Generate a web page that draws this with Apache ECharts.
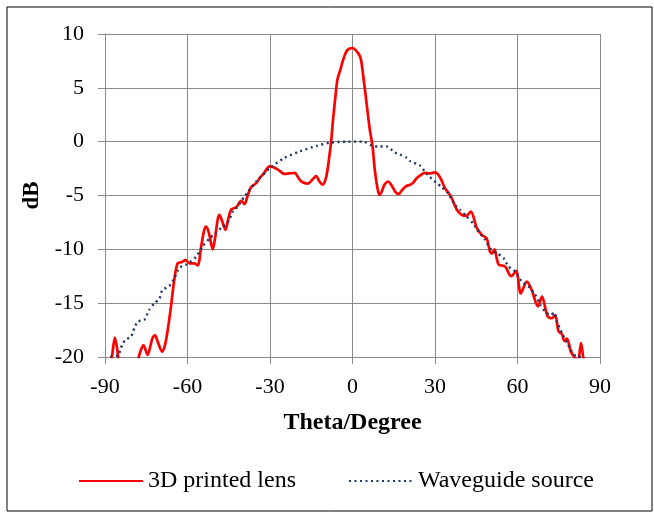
<!DOCTYPE html>
<html>
<head>
<meta charset="utf-8">
<script src="https://cdn.jsdelivr.net/npm/echarts@6/dist/echarts.min.js"></script>
<style>
html,body{margin:0;padding:0;background:#fff;}
#chart{width:654px;height:513px;}
</style>
</head>
<body>
<div id="chart"></div>
<script>
var xTicks = [-90, -60, -30, 0, 30, 60, 90];
var yTicks = [-20, -15, -10, -5, 0, 5, 10];

var lensTheta = [-88.5,-87.5,-86.4,-85.6,-85.0,-84,-80,-78.0,-77.3,-76.0,-74.5,-73.5,-72.8,-71.8,-70.8,-69.2,-68.2,-67.2,-66.0,-64.8,-63.6,-62.3,-60.7,-59.3,-57.5,-56.3,-55.0,-54.0,-53.3,-52.3,-51.3,-50.8,-50.0,-49.0,-48.4,-47.5,-46.2,-45.2,-44.1,-42.3,-40.5,-39.3,-38.0,-36.8,-35.0,-33.8,-32.4,-30.1,-28.5,-27.1,-24.7,-23.0,-21.0,-19.8,-18.6,-16.2,-14.5,-13.2,-12.0,-10.9,-9.5,-8.4,-7.7,-7.1,-6.2,-5.5,-4.4,-3.4,-2.2,-1.0,0,1.5,2.9,3.9,5.1,6.3,7.3,8.1,9.0,9.8,10.7,11.6,13.0,14.3,15.7,16.8,18.0,19.4,21.0,22.1,23.3,24.5,26.3,28.0,30.0,31.8,33.6,35.8,37.9,39.7,41.3,43.0,45.2,47.0,48.8,50.0,50.7,51.6,53.1,55.5,57.7,59.5,61.2,63.4,65.2,67.4,68.9,70.9,72.5,73.7,74.9,76.2,77.0,78.0,79.4,81.0,82.0,83.1,84.0,85.0];
var lensDb = [-21,-20,-18.2,-19.2,-20.5,-22,-22,-20.3,-19.6,-18.9,-19.8,-19.0,-18.3,-18.0,-18.6,-19.5,-18.9,-17.5,-15.3,-12.8,-11.3,-11.2,-11.0,-11.3,-11.3,-11.5,-9.7,-8.3,-7.9,-8.4,-9.6,-10.0,-9.0,-7.2,-6.8,-7.3,-8.2,-7.2,-6.3,-6.1,-5.5,-5.8,-4.9,-4.2,-3.85,-3.4,-3.0,-2.3,-2.4,-2.6,-3.0,-2.95,-2.9,-3.3,-3.7,-3.9,-3.5,-3.2,-3.7,-4.0,-3.2,-1.3,0.2,2.0,4.2,5.75,6.7,7.6,8.4,8.65,8.7,8.4,7.8,6.1,3.6,1.1,-0.45,-2.6,-4.2,-4.95,-4.6,-4.0,-3.7,-4.1,-4.7,-4.85,-4.5,-4.15,-4.0,-3.8,-3.4,-3.15,-2.9,-2.95,-2.85,-3.3,-4.3,-5.1,-6.3,-6.8,-6.9,-6.5,-8.0,-8.65,-9.0,-10.2,-10.4,-10.0,-11.4,-11.6,-12.5,-12.0,-14.1,-13.0,-13.8,-15.3,-14.4,-16.2,-16.4,-16.1,-17.6,-17.9,-18.5,-18.3,-19.5,-20.1,-20.3,-18.7,-20.2,-21];

var wgTheta = [-88.5,-87.5,-85.4,-83.8,-82.6,-80.5,-79.3,-78.1,-75.7,-73.9,-72.0,-70.2,-69.2,-66.6,-64.8,-62.9,-60.3,-58.7,-56.9,-54.4,-52.0,-49.8,-47.7,-45.3,-43.5,-42.3,-39.3,-35.0,-33.8,-30.1,-24.7,-19.2,-13.1,-8.3,-2.2,3.9,5.1,6.9,9.3,12.4,15.4,17.2,19.7,20.9,24.5,27.0,30.6,32.4,34.8,37.3,39.1,41.5,43.9,45.8,48.2,50.0,52.5,54.9,56.7,59.1,61.6,64.0,66.4,68.3,70.1,71.9,73.4,74.3,76.2,78.0,79.8,81.6,83.5,84.5];
var wgDb = [-20.5,-19.9,-19.9,-18.9,-18.4,-18.1,-17.3,-16.7,-16.55,-15.6,-15.0,-14.6,-13.8,-13.4,-12.7,-11.7,-11.4,-11.1,-10.7,-9.7,-9.0,-8.5,-8.0,-7.5,-6.5,-6.2,-5.1,-3.7,-3.4,-2.45,-1.5,-0.9,-0.4,-0.1,0,0,-0.1,-0.35,-0.45,-0.45,-1.0,-1.2,-1.5,-1.8,-2.2,-3.0,-3.85,-4.2,-4.8,-5.9,-6.3,-6.95,-7.6,-8.35,-9.1,-9.9,-10.35,-10.8,-11.6,-12.05,-13.0,-13.45,-14.2,-15.15,-15.8,-16.1,-15.9,-16.7,-17.8,-18.7,-19.5,-20,-20,-20.5];

function pairs(xs, ys){ return xs.map(function(x,i){ return [x, ys[i]]; }); }

var FONT = '"Liberation Serif","Times New Roman",serif';
var GRIDC = '#8a8a8a';

var chart = echarts.init(document.getElementById('chart'), null, {renderer:'canvas'});
chart.setOption({
  animation: false,
  backgroundColor: '#fff',
  textStyle: {fontFamily: FONT, color: '#000'},
  graphic: [{
    type: 'rect', left: 4.5, top: 4.5, silent: true,
    shape: {x: 0, y: 0, width: 645, height: 504},
    style: {fill: 'none', stroke: '#000', lineWidth: 1}
  }],
  grid: {left: 105, top: 34, width: 495, height: 323, containLabel: false},
  xAxis: {
    type: 'value', min: xTicks[0], max: xTicks[xTicks.length-1], interval: 30,
    name: 'Theta/Degree', nameLocation: 'middle', nameGap: 54,
    nameTextStyle: {fontFamily: FONT, fontSize: 24, fontWeight: 'bold', color: '#000'},
    axisLine: {onZero: false, lineStyle: {color: GRIDC, width: 1}},
    axisTick: {show: true, length: 7, lineStyle: {color: GRIDC}},
    axisLabel: {fontFamily: FONT, fontSize: 22, color: '#000', margin: 19},
    splitLine: {show: true, lineStyle: {color: GRIDC, width: 1}}
  },
  yAxis: {
    type: 'value', min: yTicks[0], max: yTicks[yTicks.length-1], interval: 5,
    name: 'dB', nameLocation: 'middle', nameGap: 58, nameRotate: 90,
    nameTextStyle: {fontFamily: FONT, fontSize: 23, fontWeight: 'bold', color: '#000'},
    axisLine: {show: true, onZero: false, lineStyle: {color: GRIDC, width: 1}},
    axisTick: {show: true, length: 7, lineStyle: {color: GRIDC}},
    axisLabel: {fontFamily: FONT, fontSize: 22, color: '#000', margin: 21},
    splitLine: {show: true, lineStyle: {color: GRIDC, width: 1}}
  },
  legend: {
    left: 73, top: 464, itemWidth: 64, itemHeight: 14, itemGap: 52,
    itemStyle: {opacity: 0},
    textStyle: {fontFamily: FONT, fontSize: 24, color: '#000'},
    data: ['3D printed lens', 'Waveguide source']
  },
  series: [
    {
      name: '3D printed lens', type: 'line', data: pairs(lensTheta, lensDb),
      symbol: 'none', smooth: 0.3, clip: true, z: 3,
      lineStyle: {color: '#ff0000', width: 2.7}, itemStyle: {color: '#ff0000'}
    },
    {
      name: 'Waveguide source', type: 'line', data: pairs(wgTheta, wgDb),
      symbol: 'none', smooth: 0.2, clip: true, z: 4,
      lineStyle: {color: '#1f3864', width: 2.4, type: [2, 3.5]}, itemStyle: {color: '#1f3864'}
    }
  ]
});
</script>
</body>
</html>
